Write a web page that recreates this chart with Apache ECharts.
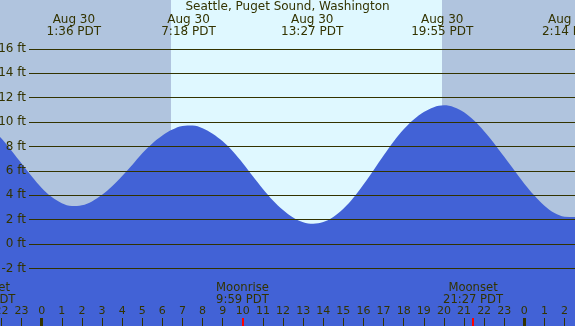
<!DOCTYPE html>
<html><head><meta charset="utf-8">
<script src="https://cdn.jsdelivr.net/npm/echarts@6/dist/echarts.min.js"></script>
<style>html,body{margin:0;padding:0;background:#dff8ff;overflow:hidden}#c{width:575px;height:326px}</style>
</head><body><div id="c"></div>
<script>
// Tide heights (ft), hour of Aug 30 (PDT)
const hours = [-2.5,-2,-1.5,-1,-0.5,0,0.5,1,1.5,2,2.5,3,3.5,4,4.5,5,5.5,6,6.5,7,7.5,8,8.5,9,9.5,10,10.5,11,11.5,12,12.5,13,13.5,14,14.5,15,15.5,16,16.5,17,17.5,18,18.5,19,19.5,20,20.5,21,21.5,22,22.5,23,23.5,24,24.5,25,25.5,26,26.5,27];
const heights = [9.47,8.65,7.65,6.6,5.55,4.6,3.85,3.35,3.12,3.18,3.5,4.04,4.75,5.59,6.49,7.45,8.25,8.9,9.39,9.68,9.72,9.5,9.05,8.42,7.6,6.62,5.55,4.52,3.58,2.79,2.18,1.8,1.67,1.81,2.23,2.9,3.8,4.88,6.05,7.25,8.4,9.4,10.2,10.82,11.22,11.37,11.22,10.8,10.12,9.25,8.25,7.15,6.05,4.95,3.98,3.15,2.55,2.25,2.22,2.4];

const yTicks = [-2,0,2,4,6,8,10,12,14,16];
const hourTicks = [-2,-1,0,1,2,3,4,5,6,7,8,9,10,11,12,13,14,15,16,17,18,19,20,21,22,23,24,25,26];
const midnightTicks = [0,24];

const tideTimes = [1.6, 7.3, 13.45, 19.917, 26.233];
const tideDates = ["Aug 30","Aug 30","Aug 30","Aug 30","Aug 31"];
const tideLabels = ["1:36 PDT","7:18 PDT","13:27 PDT","19:55 PDT","2:14 PDT"];

const moonTimes = [-2.8, 9.983, 21.45];
const moonNames = ["Moonset","Moonrise","Moonset"];
const moonLabels = ["21:12 PDT","9:59 PDT","21:27 PDT"];

const sunrise = 6.43, sunset = 19.905;
const X_MIN = -2.074, X_MAX = 26.519, Y_MIN = -6.71, Y_MAX = 20;

const FONT = 'DejaVu Sans';
const TXT = '#333300';
const LINE = '#333300';
const BLUE = '#4262d6';
const NIGHT = '#b0c4de';
const DAY = '#dff8ff';

const chart = echarts.init(document.getElementById('c'), null, {renderer:'canvas'});

function baseX(extra){
  return Object.assign({type:'value', gridIndex:0, min:X_MIN, max:X_MAX, position:'bottom', z:10,
    axisLine:{show:false, onZero:false}, splitLine:{show:false}}, extra);
}

function labelSeries(times, line1, line2, y1, y2, size){
  return {
    type:'custom', xAxisIndex:0, yAxisIndex:0, silent:true, z:5,
    data: times.map((t,i)=>[t,i]),
    renderItem: function(params, api){
      const t = api.value(0), i = api.value(1);
      const x = api.coord([t, 0])[0];
      return {type:'group', children:[
        {type:'text', x:x, y:y1, style:{text:line1[i], fill:TXT, font:size+'px "'+FONT+'"', align:'center', verticalAlign:'middle'}},
        {type:'text', x:x, y:y2, style:{text:line2[i], fill:TXT, font:size+'px "'+FONT+'"', align:'center', verticalAlign:'middle'}}
      ]};
    }
  };
}

const option = {
  backgroundColor: DAY,
  animation: false,
  title: {text:'Seattle, Puget Sound, Washington', left:'center', top:0, padding:[1,0,0,0],
    textStyle:{fontFamily:FONT, fontSize:12, fontWeight:'normal', color:TXT}},
  grid: [
    {left:0, right:0, top:0, bottom:0, outerBoundsMode:'none'},
    {left:29, right:0, top:0, bottom:0, outerBoundsMode:'none'}
  ],
  xAxis: [
    baseX({
      axisTick:{show:true, inside:true, length:8, customValues:hourTicks, lineStyle:{color:LINE, width:1}},
      axisLabel:{show:true, inside:true, margin:9, customValues:hourTicks,
        formatter: v => String(((Math.round(v)%24)+24)%24),
        fontFamily:FONT, fontSize:11, color:TXT}
    }),
    baseX({
      axisTick:{show:true, inside:true, length:8, customValues:midnightTicks, lineStyle:{color:LINE, width:3}},
      axisLabel:{show:false}
    }),
    baseX({
      axisTick:{show:true, inside:true, length:8, customValues:moonTimes.slice(1), lineStyle:{color:'#ff0000', width:2}},
      axisLabel:{show:false}
    }),
    {type:'value', gridIndex:1, min:X_MIN, max:X_MAX, show:false}
  ],
  yAxis: [
    {type:'value', gridIndex:0, min:Y_MIN, max:Y_MAX, show:false},
    {type:'value', gridIndex:1, min:Y_MIN, max:Y_MAX, show:false}
  ],
  series: [
    {
      type:'line', xAxisIndex:0, yAxisIndex:0, z:2,
      data: hours.map((h,i)=>[h, heights[i]]),
      smooth:0.35, symbol:'none', silent:true,
      lineStyle:{width:0, color:BLUE},
      areaStyle:{color:BLUE, opacity:1, origin:'start'},
      markArea:{silent:true, itemStyle:{color:NIGHT}, z:1,
        data:[[{xAxis:X_MIN},{xAxis:sunrise}],[{xAxis:sunset},{xAxis:X_MAX}]]}
    },
    {
      type:'line', xAxisIndex:3, yAxisIndex:1, z:3, data:[], silent:true,
      markLine:{silent:true, symbol:'none', animation:false,
        lineStyle:{color:LINE, width:1, type:'solid'},
        label:{position:'start', distance:3, formatter: p => p.value + ' ft',
          fontFamily:FONT, fontSize:12, color:TXT},
        data: yTicks.map(v => ({yAxis:v}))}
    },
    labelSeries(tideTimes, tideDates, tideLabels, 20, 32, 12),
    labelSeries(moonTimes, moonNames, moonLabels, 287.5, 299.8, 11.6)
  ]
};
chart.setOption(option);
</script>
</body></html>
